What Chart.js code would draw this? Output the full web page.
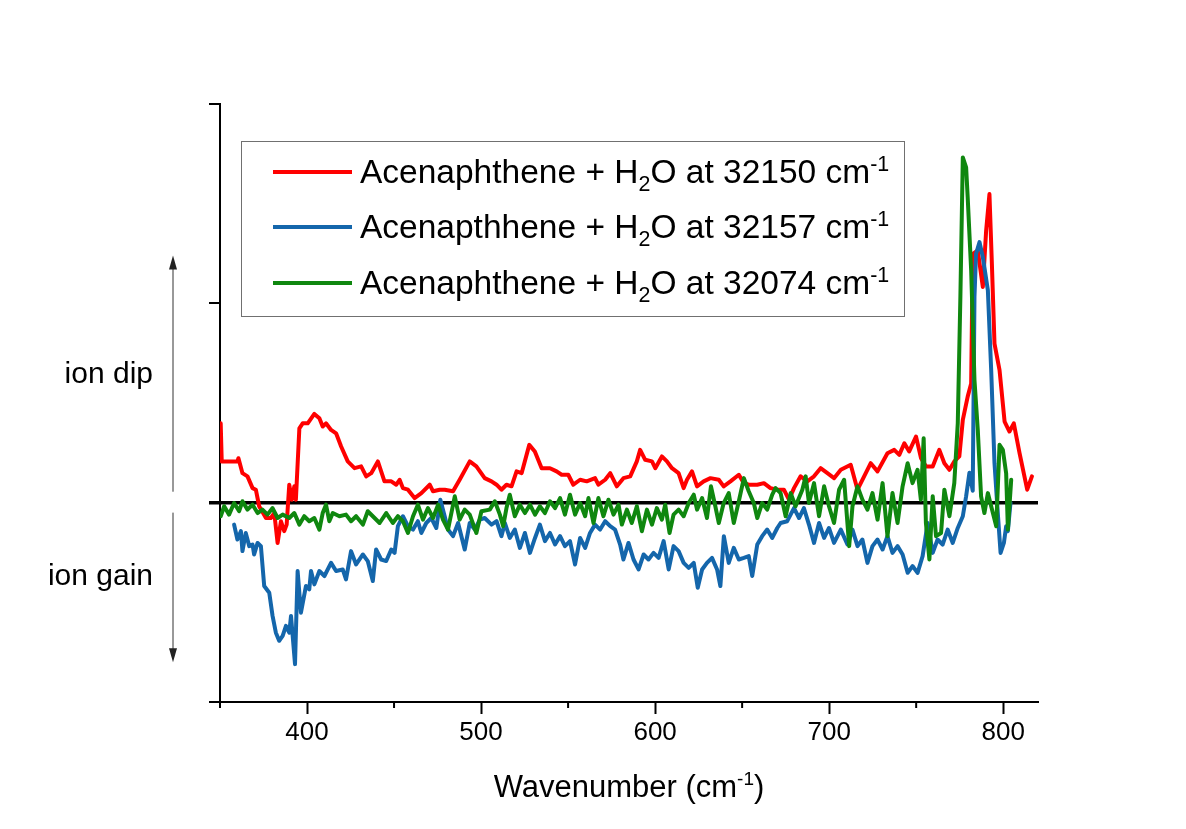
<!DOCTYPE html>
<html>
<head>
<meta charset="utf-8">
<script src="https://cdn.jsdelivr.net/npm/chart.js@4.4.1/dist/chart.umd.min.js"></script>
<style>
  body { margin: 0; background: #fff; }
  #wrap { position: relative; width: 1186px; height: 829px; }
  #legend {
    position: absolute; left: 241px; top: 141px; width: 664px; height: 176px;
    box-sizing: border-box; border: 1.5px solid #707070;
    font-family: 'Liberation Sans', Arial, sans-serif; font-size: 33.5px; color: #000;
  }
  .row { position: absolute; left: 0; height: 56px; display: flex; align-items: center; }
  .swatch { margin-left: 31px; width: 79px; height: 4px; }
  .lbl { margin-left: 8px; white-space: nowrap; }
  .lbl sub, .lbl sup { font-size: 0.64em; line-height: 0; }
</style>
</head>
<body>
<div id="wrap">
  <canvas id="chart" width="1186" height="829"></canvas>
  <div id="legend"></div>
</div>
<script>
// wavenumber (cm-1) and signal for each trace
const redX = [350.4, 351.0, 355.2, 360.0, 360.6, 362.9, 365.8, 368.7, 370.6, 372.5,
  376.4, 379.2, 381.2, 383.1, 385.0, 386.9, 388.3, 389.8, 391.3, 392.7,
  393.6, 395.6, 397.5, 400.4, 404.2, 407.1, 409.0, 410.9, 413.8, 416.7,
  419.6, 423.4, 427.3, 431.1, 434.0, 436.9, 440.7, 444.5, 448.4, 451.3,
  453.2, 455.1, 458.0, 461.8, 465.7, 470.5, 472.4, 476.2, 479.1, 483.9,
  487.7, 493.5, 497.3,
  502.1, 506.0, 508.9, 511.7, 514.6, 517.5, 520.4, 523.3, 527.7, 530.9,
  534.8, 539.6, 543.4, 546.3, 550.1, 553.0, 556.9, 560.7, 565.5, 567.4,
  571.3, 574.2, 578.0, 581.8, 585.7, 589.5, 591.4, 594.3, 598.2, 600.1,
  603.9, 606.8, 609.7, 613.5, 616.4, 618.3, 621.2, 624.1, 627.9, 631.8,
  636.6, 639.4, 643.3, 648.1, 651.0, 653.9, 658.7, 662.5, 666.3,
  670.2, 674.0, 676.9, 679.8, 683.6, 687.5, 691.3, 695.1, 699.0, 702.8,
  706.7, 712.4, 716.3, 720.1, 723.9, 727.8, 733.5, 737.4, 740.3, 743.2,
  746.0, 749.9, 752.8, 755.6, 759.5, 763.3, 766.2, 769.1, 771.9, 774.8,
  776.8, 779.6, 781.6, 782.5, 785.4, 788.3, 790.2, 792.1, 793.5, 795.0,
  797.9, 800.8, 803.6, 806.1, 809.4, 813.8, 816.5];
const redY = [0.398, 0.207, 0.207, 0.207, 0.223, 0.148, 0.132, 0.073, 0.065, -0.018,
  -0.077, -0.077, -0.052, -0.202, -0.093, -0.143, -0.11, 0.09, 0.015, 0.082,
  0.015, 0.373, 0.398, 0.398, 0.445, 0.423, 0.382, 0.398, 0.365, 0.348,
  0.282, 0.207, 0.173, 0.182, 0.132, 0.148, 0.207, 0.107, 0.107, 0.09,
  0.115, 0.073, 0.065, 0.023, 0.048, 0.09, 0.057, 0.065, 0.065, 0.057,
  0.115, 0.207, 0.182,
  0.123, 0.107, 0.09, 0.065, 0.09, 0.082, 0.157, 0.148, 0.29, 0.257,
  0.173, 0.173, 0.157, 0.14, 0.14, 0.09, 0.115, 0.107, 0.123, 0.09,
  0.115, 0.148, 0.082, 0.123, 0.132, 0.207, 0.265, 0.215, 0.207, 0.173,
  0.232, 0.207, 0.173, 0.148, 0.073, 0.115, 0.157, 0.082, 0.107, 0.123,
  0.115, 0.082, 0.107, 0.14, 0.098, 0.09, 0.09, 0.098, 0.073,
  0.065, 0.065, 0.015, 0.073, 0.132, 0.107, 0.132, 0.173, 0.148, 0.123,
  0.165, 0.19, 0.065, 0.132, 0.198, 0.157, 0.248, 0.265, 0.24, 0.298,
  0.257, 0.332, 0.223, 0.182, 0.182, 0.265, 0.198, 0.165, 0.207, 0.232,
  0.415, 0.532, 0.598, 1.248, 1.265, 1.082, 1.365, 1.548, 1.198, 0.798,
  0.665, 0.407, 0.357, 0.398, 0.248, 0.065, 0.132];

const blueX = [358.1, 360.0, 362.0, 362.9, 364.8, 366.8, 368.7, 369.6, 371.6, 373.5,
  375.4, 378.3, 380.2, 382.1, 384.0, 386.0, 387.9, 389.8, 390.8, 393.1,
  394.6, 396.5, 399.4, 401.3, 402.3, 404.2, 407.1, 410.0, 413.8, 416.7,
  420.5, 422.4, 425.3, 428.2, 432.1, 434.9, 437.8, 439.7, 442.6, 445.5,
  448.4, 450.3, 452.2, 455.1, 458.0, 460.9, 463.7, 465.7, 468.5, 471.4,
  474.3, 476.6, 479.1, 481.0, 483.9, 486.8, 490.6, 493.5, 496.4, 499.3,
  502.1, 506.0, 508.9, 511.7, 513.7, 516.5, 519.4, 522.3, 525.2, 528.1,
  531.0, 533.8, 536.7, 539.6, 542.5, 545.4, 548.2, 551.1, 554.0, 556.9,
  559.8, 562.6, 565.5, 568.4, 571.3, 574.2, 577.0, 579.9, 581.8, 584.7,
  587.6, 590.5, 593.4, 596.2, 599.1, 602.0, 604.9, 607.8, 610.6, 613.5,
  616.4, 619.3, 622.2, 624.5, 627.0, 629.8, 632.7, 635.6, 637.5, 639.5,
  642.3, 645.2, 648.1, 651.0, 653.8, 655.8, 658.7, 661.5, 664.4, 667.3,
  670.2,
  672.1, 675.9, 679.8, 682.7, 685.5, 688.4, 691.3, 694.2, 697.1, 699.9,
  702.8, 706.7, 710.5, 713.4, 716.3, 719.1, 722.0, 724.9, 727.8, 730.7,
  733.5, 736.4, 739.3, 742.2, 745.1, 747.9, 750.8, 753.7, 756.6, 759.5,
  762.3, 765.2, 768.1, 771.0, 773.9, 776.8, 778.7, 780.6, 782.5, 783.5,
  784.4, 786.4, 788.3, 791.2, 793.1, 795.0, 796.9, 798.5, 800.4, 801.7,
  802.7, 804.2];
const blueY = [-0.11, -0.185, -0.143, -0.243, -0.152, -0.218, -0.21, -0.26, -0.202, -0.218,
  -0.418, -0.452, -0.568, -0.652, -0.693, -0.668, -0.618, -0.652, -0.568, -0.81,
  -0.343, -0.552, -0.418, -0.435, -0.343, -0.41, -0.343, -0.368, -0.302, -0.343,
  -0.335, -0.385, -0.243, -0.31, -0.26, -0.293, -0.393, -0.235, -0.285, -0.293,
  -0.235, -0.252, -0.118, -0.068, -0.118, -0.135, -0.093, -0.152, -0.102, -0.077,
  -0.127, 0.015, -0.068, -0.135, -0.168, -0.102, -0.235, -0.102, -0.135, -0.085,
  -0.077, -0.11, -0.093, -0.168, -0.102, -0.177, -0.135, -0.227, -0.152, -0.252,
  -0.177, -0.11, -0.193, -0.152, -0.21, -0.168, -0.218, -0.193, -0.31, -0.177,
  -0.227, -0.152, -0.11, -0.135, -0.093, -0.118, -0.135, -0.21, -0.285, -0.202,
  -0.285, -0.335, -0.26, -0.285, -0.252, -0.277, -0.193, -0.335, -0.218, -0.243,
  -0.302, -0.327, -0.302, -0.427, -0.335, -0.302, -0.277, -0.335, -0.418, -0.168,
  -0.302, -0.227, -0.285, -0.277, -0.268, -0.368, -0.21, -0.168, -0.135, -0.177,
  -0.127,
  -0.102, -0.093, -0.027, -0.077, -0.027, -0.11, -0.202, -0.102, -0.177, -0.127,
  -0.202, -0.135, -0.21, -0.135, -0.218, -0.185, -0.302, -0.218, -0.185, -0.235,
  -0.168, -0.252, -0.218, -0.26, -0.352, -0.318, -0.352, -0.268, -0.102, -0.252,
  -0.185, -0.21, -0.135, -0.202, -0.127, -0.068, 0.032, 0.15, 0.06, 1.032,
  1.248, 1.307, 1.232, 1.065, 0.665, 0.198, -0.052, -0.252, -0.202, -0.118,
  -0.143, 0.0];

const greenX = [350.4, 352.4, 355.2, 358.1, 361.0, 362.9, 365.8, 368.7, 371.6, 374.4,
  377.3, 380.2, 383.1, 386.0, 389.8, 392.7, 395.6, 398.4, 401.3, 404.2,
  407.1, 409.0, 410.9, 412.8, 414.8, 418.6, 422.4, 425.3, 428.2, 432.1,
  434.9, 437.8, 441.7, 445.5, 449.3, 452.2, 455.1, 458.0, 460.9, 463.7,
  466.6, 469.5, 472.4, 475.3, 478.1, 481.0, 484.9, 487.7, 490.6, 493.5,
  497.3, 500.2,
  505.0, 507.9, 510.8, 512.7, 514.6, 516.5, 519.4, 522.3, 525.2, 528.1,
  531.0, 533.8, 536.7, 539.6, 542.5, 545.4, 548.2, 551.1, 554.0, 556.9,
  559.8, 561.7, 564.6, 567.4, 570.3, 573.2, 576.1, 579.0, 580.9, 583.8,
  586.6, 589.5, 592.4, 595.3, 598.2, 601.0, 603.9, 605.8, 608.3, 610.6,
  613.5, 616.4, 619.3, 622.2, 624.1, 627.0, 629.8, 632.1, 634.6, 636.6,
  639.4, 642.3, 645.2, 648.1, 651.0, 653.8, 656.7, 658.7, 661.5, 664.4,
  667.3, 669.2,
  672.1, 675.0, 677.9, 680.7, 684.6, 686.5, 688.4, 691.3, 694.2, 697.1,
  699.9, 702.8, 705.7, 708.6, 711.5, 713.4, 716.3, 719.1, 722.0, 724.9,
  727.8, 730.7, 733.5, 736.4, 739.3, 742.2, 745.1, 747.9, 750.8, 752.7,
  754.3, 755.6, 757.6, 759.5, 761.4, 764.3, 766.2, 769.1, 771.9, 773.9,
  775.4, 776.8, 778.7, 779.6, 781.6, 783.5, 785.4, 787.3, 789.2, 791.2,
  793.1, 796.0, 797.9, 799.8, 801.7, 802.7, 804.6];
const greenY = [-0.068, -0.018, -0.06, -0.002, -0.043, 0.007, -0.035, -0.01, -0.052, -0.035,
  -0.06, -0.027, -0.077, -0.06, -0.077, -0.052, -0.11, -0.068, -0.093, -0.077,
  -0.135, -0.052, -0.01, -0.093, -0.052, -0.068, -0.06, -0.093, -0.068, -0.11,
  -0.043, -0.068, -0.102, -0.052, -0.102, -0.068, -0.093, -0.152, -0.068, -0.01,
  -0.085, -0.027, -0.077, -0.01, -0.085, -0.135, 0.032, -0.085, -0.035, -0.06,
  -0.152, -0.043,
  -0.035, 0.007, -0.06, -0.118, -0.027, 0.04, -0.068, -0.01, -0.052, -0.01,
  -0.06, -0.018, -0.052, 0.007, -0.027, 0.023, -0.06, 0.04, -0.06, -0.002,
  -0.068, 0.023, -0.102, 0.023, -0.068, 0.015, -0.06, -0.01, -0.11, -0.035,
  -0.102, -0.018, -0.143, -0.035, -0.11, -0.027, -0.085, -0.01, -0.152, -0.06,
  -0.035, -0.068, -0.002, 0.04, -0.035, 0.023, -0.077, 0.082, -0.018, -0.102,
  -0.002, 0.048, -0.102, 0.007, 0.123, 0.057, -0.002, -0.077, -0.002, -0.035,
  0.04, 0.073,
  0.048, -0.068, 0.048, -0.018, 0.065, 0.132, -0.002, 0.098, -0.068, 0.082,
  -0.018, -0.102, 0.065, 0.115, -0.218, -0.018, 0.082, 0.015, -0.035, 0.048,
  -0.085, 0.098, -0.168, 0.048, -0.102, 0.082, 0.198, 0.098, 0.165, 0.015,
  0.323, -0.102, -0.285, 0.032, -0.168, -0.152, 0.065, -0.068, 0.098, 0.398,
  1.032, 1.732, 1.682, 1.532, 1.165, 0.615, 0.365, 0.032, -0.052, 0.048,
  -0.018, -0.118, 0.29, 0.265, 0.148, -0.135, 0.115];

const seriesNames = [
  'Acenaphthene + H2O at 32150 cm-1',
  'Acenapthhene + H2O at 32157 cm-1',
  'Acenaphthene + H2O at 32074 cm-1'
];
const seriesColors = ['#ff0000', '#1466ab', '#0f870f'];

const xMajorTicks = [400, 500, 600, 700, 800];
const xMinorTicks = [350, 450, 550, 650, 750];
const yTicks = [-1, 0, 1, 2];

function pts(xs, ys) {
  return xs.map((x, i) => ({ x: x, y: ys[i] }));
}

const FONT = "'Liberation Sans', Arial, sans-serif";
Chart.defaults.font.family = FONT;
Chart.defaults.color = '#000';

// minor x ticks, x title with superscript, the ion dip / ion gain notes and arrows
const extras = {
  id: 'extras',
  afterDraw(chart) {
    const { ctx } = chart;
    const x = chart.scales.x, y = chart.scales.y;
    ctx.save();
    ctx.strokeStyle = '#000';
    ctx.lineWidth = 2;
    xMinorTicks.forEach(v => {
      const px = x.getPixelForValue(v);
      ctx.beginPath();
      ctx.moveTo(px, y.bottom);
      ctx.lineTo(px, y.bottom + 6);
      ctx.stroke();
    });

    // axis title: Wavenumber (cm-1)
    ctx.fillStyle = '#000';
    ctx.textBaseline = 'alphabetic';
    ctx.textAlign = 'left';
    const mainFont = '31px ' + FONT, supFont = '19px ' + FONT;
    ctx.font = mainFont;
    const t1 = 'Wavenumber (cm', t3 = ')';
    const w1 = ctx.measureText(t1).width, w3 = ctx.measureText(t3).width;
    ctx.font = supFont;
    const w2 = ctx.measureText('-1').width;
    let tx = (x.left + x.right) / 2 - (w1 + w2 + w3) / 2;
    const base = 797;
    ctx.font = mainFont;
    ctx.fillText(t1, tx, base);
    ctx.font = supFont;
    ctx.fillText('-1', tx + w1, base - 12);
    ctx.font = mainFont;
    ctx.fillText(t3, tx + w1 + w2, base);

    ctx.font = '30px ' + FONT;
    ctx.textAlign = 'right';
    ctx.fillText('ion dip', 153, y.getPixelForValue(0.6));
    ctx.fillText('ion gain', 153, y.getPixelForValue(-0.415));

    const ax = 173;
    ctx.strokeStyle = '#333';
    ctx.fillStyle = '#222';
    ctx.lineWidth = 1;
    function arrow(fromV, toV) {
      const y0 = y.getPixelForValue(fromV), y1 = y.getPixelForValue(toV);
      const dir = y1 < y0 ? 1 : -1;
      ctx.beginPath();
      ctx.moveTo(ax, y0);
      ctx.lineTo(ax, y1 + dir * 10);
      ctx.stroke();
      ctx.beginPath();
      ctx.moveTo(ax, y1);
      ctx.lineTo(ax - 4, y1 + dir * 14);
      ctx.lineTo(ax + 4, y1 + dir * 14);
      ctx.closePath();
      ctx.fill();
    }
    arrow(0.055, 1.24);
    arrow(-0.05, -0.8);
    ctx.restore();
  }
};

const chart = new Chart(document.getElementById('chart'), {
  type: 'line',
  data: {
    datasets: [
      { label: seriesNames[0], data: pts(redX, redY), borderColor: seriesColors[0], order: 3 },
      { label: seriesNames[1], data: pts(blueX, blueY), borderColor: seriesColors[1], order: 2 },
      { label: seriesNames[2], data: pts(greenX, greenY), borderColor: seriesColors[2], order: 1 }
    ]
  },
  options: {
    responsive: false,
    animation: false,
    layout: { padding: { top: 104, right: 148, bottom: 0, left: 0 } },
    elements: {
      point: { radius: 0 },
      line: { borderWidth: 4, tension: 0, borderJoinStyle: 'round', borderCapStyle: 'round' }
    },
    plugins: {
      legend: { display: false },
      tooltip: { enabled: false }
    },
    scales: {
      x: {
        type: 'linear',
        min: 350,
        max: 820,
        afterBuildTicks: scale => { scale.ticks = xMajorTicks.map(v => ({ value: v })); },
        afterFit: scale => { scale.height = 127; },
        border: { display: true, color: '#000', width: 2 },
        grid: { drawOnChartArea: false, drawTicks: true, tickLength: 12, tickColor: '#000', tickWidth: 2 },
        ticks: { color: '#000', font: { size: 26 }, padding: 3, maxRotation: 0 },
        title: { display: false }
      },
      y: {
        type: 'linear',
        min: -1,
        max: 2,
        z: 1,
        afterBuildTicks: scale => { scale.ticks = yTicks.map(v => ({ value: v })); },
        afterFit: scale => { scale.width = 220; },
        border: { display: true, color: '#000', width: 2 },
        grid: {
          drawOnChartArea: true,
          color: ctx => (ctx.tick && ctx.tick.value === 0 ? '#000' : 'rgba(0,0,0,0)'),
          lineWidth: ctx => (ctx.tick && ctx.tick.value === 0 ? 3.5 : 0),
          drawTicks: true,
          tickLength: 11,
          tickColor: '#000',
          tickWidth: ctx => (ctx.tick && ctx.tick.value === 0 ? 3.5 : 2)
        },
        ticks: { display: false }
      }
    }
  },
  plugins: [extras]
});

// boxed legend with subscript / superscript, built from the datasets
const legendEl = document.getElementById('legend');
chart.data.datasets.forEach((ds, i) => {
  const row = document.createElement('div');
  row.className = 'row';
  row.style.top = (1.5 + i * 55.5) + 'px';
  const sw = document.createElement('div');
  sw.className = 'swatch';
  sw.style.background = ds.borderColor;
  const lbl = document.createElement('div');
  lbl.className = 'lbl';
  lbl.innerHTML = ds.label.replace('H2O', 'H<sub>2</sub>O').replace('cm-1', 'cm<sup>-1</sup>');
  row.appendChild(sw);
  row.appendChild(lbl);
  legendEl.appendChild(row);
});
</script>
</body>
</html>
